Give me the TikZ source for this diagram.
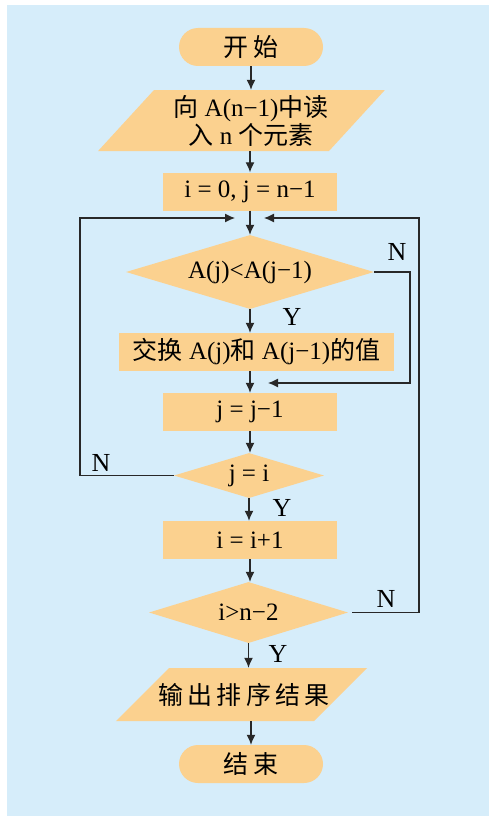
\documentclass[tikz,border=0pt]{standalone}
\usepackage{fontspec}
\setmainfont{Liberation Serif}
\newfontfamily\cjk{Noto Sans CJK SC}
\usetikzlibrary{arrows.meta,positioning,shapes.geometric}
\definecolor{FlowBlue}{RGB}{214,237,250}
\definecolor{FlowOrange}{RGB}{251,209,143}
\definecolor{FlowLine}{RGB}{40,40,40}

\begin{document}
\begin{tikzpicture}[x=1pt,y=-1pt,
  font=\fontsize{25}{28}\selectfont,
  term/.style={rectangle,rounded corners=19pt,fill=FlowOrange,minimum width=144pt,minimum height=38pt,inner sep=0pt},
  proc/.style={rectangle,fill=FlowOrange,minimum width=174pt,minimum height=38pt,inner sep=1pt},
  io/.style={trapezium,fill=FlowOrange,inner sep=0pt,text depth=0pt},
  test/.style={diamond,aspect=3,fill=FlowOrange,inner sep=0pt},
  yn/.style={font=\fontsize{26}{28}\selectfont},
  arr/.style={-{Latex[length=10pt,width=9pt]},FlowLine,line width=1.2pt}]
\useasboundingbox (0,0) rectangle (489,816);
\fill[FlowBlue] (7,5) rectangle (489,816);
% flow boxes
\node[term] (start) at (251,47) {{\cjk 开\,始}};
\node[io,trapezium left angle=47.5,trapezium right angle=132.5,text width=175pt,text height=61pt,
  label={[align=center,xshift=9.5pt]center:{\cjk 向} A(n−1){\cjk 中读}\\{\cjk 入} n {\cjk 个元素}}] (input) at (241.5,120.5) {};
\node[proc] (init) at (250,191.5) {i = 0, j = n−1};
\node[test,minimum width=248pt,minimum height=74pt] (cmp) at (250,272) {A(j)<A(j−1)};
\node[proc,minimum width=275pt] (swap) at (256.5,352) {{\cjk 交换} A(j){\cjk 和} A(j−1){\cjk 的值}};
\node[proc] (dec) at (250,412) {j = j−1};
\node[test,minimum width=150pt,minimum height=45pt] (inner) at (249,475.5) {j = i};
\node[proc] (inc) at (250,540) {i = i+1};
\node[test,minimum width=199pt,minimum height=61pt] (outer) at (248.5,612.5) {i>n−2};
\node[io,trapezium left angle=45,trapezium right angle=135,text width=145pt,text height=53pt,
  label={[xshift=2.5pt]center:{\cjk 输\,出\,排\,序\,结\,果}}] (output) at (241.5,694.5) {};
\node[term] (stop) at (251,764) {{\cjk 结\,束}};
% loop corners
\coordinate (joinL) at (235,218);
\coordinate (joinR) at (264,218);
\coordinate (cornerL) at (80,218);
\coordinate (cornerR) at (419,218);
\coordinate (cornerS) at (410,383);
\coordinate (joinS) at (268,383);
% main line
\draw[arr] (start.south) -- (start.south |- input.north);
\draw[arr] (input.south -| init) -- (init.north);
\draw[arr] (init) -- (cmp);
\draw[arr] (cmp.south) -- (cmp.south |- swap.north);
\draw[arr] (swap.south -| dec) -- (dec.north);
\draw[arr] (dec.south) -- (dec.south |- inner.north);
\draw[arr] (inner.south) -- (inner.south |- inc.north);
\draw[arr] (inc.south) -- (inc.south |- outer.north);
\draw[arr] (outer.south) -- (outer.south |- output.north);
\draw[arr] (output.south -| stop) -- (stop.north);
% loops back
\draw[arr] (cmp.east) -| (cornerS) -- (joinS);
\draw[arr] (inner.west) -| (cornerL) -- (joinL);
\draw[arr] ([xshift=4pt]outer.east) -| (cornerR) -- (joinR);
% Y / N
\node[yn] (no1) at (397,252) {N};
\node[yn] (yes1) at (292,317) {Y};
\node[yn] (no2) at (101,463) {N};
\node[yn] (yes2) at (282,508) {Y};
\node[yn] (no3) at (386,599) {N};
\node[yn] (yes3) at (278,654) {Y};
\end{tikzpicture}
\end{document}
